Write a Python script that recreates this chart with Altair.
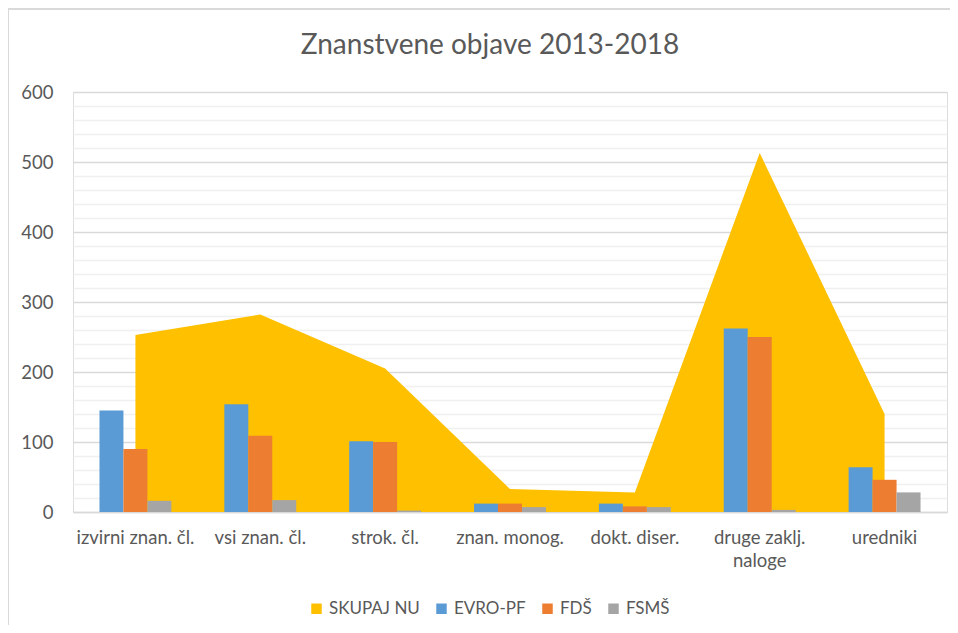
import altair as alt
import pandas as pd

title_text = "Znanstvene objave 2013-2018"
categories = ["izvirni znan. čl.", "vsi znan. čl.", "strok. čl.", "znan. monog.",
              "dokt. diser.", "druge zaklj. naloge", "uredniki"]
series_names = ["SKUPAJ NU", "EVRO-PF", "FDŠ", "FSMŠ"]
colors = ["#FFC000", "#5B9BD5", "#ED7D31", "#A5A5A5"]

skupaj_nu = [253, 282, 205, 33, 28, 513, 140]
evro_pf = [145, 154, 101, 12, 12, 262, 64]
fds = [90, 109, 100, 12, 8, 250, 46]
fsms = [16, 17, 2, 7, 7, 3, 28]

area_df = pd.DataFrame({"cat": categories, "value": skupaj_nu, "series": "SKUPAJ NU"})
bar_rows = []
for name, vals in zip(series_names[1:], [evro_pf, fds, fsms]):
    for c, v in zip(categories, vals):
        bar_rows.append({"cat": c, "value": v, "series": name})
bar_df = pd.DataFrame(bar_rows)

FONT = "Lato"
GREY = "#595959"

x_scale = alt.Scale(domain=categories, paddingInner=0.424, paddingOuter=0.212)
y_scale = alt.Scale(domain=[0, 600], nice=False)
color_scale = alt.Scale(domain=series_names, range=colors)

x_axis = alt.Axis(
    title=None, labelAngle=0, ticks=False, domainColor="#D9D9D9", domainWidth=1.5,
    labelFontSize=18.5, labelColor=GREY, labelFont=FONT, labelPadding=16,
    labelExpr="datum.value == 'druge zaklj. naloge' ? ['druge zaklj.', 'naloge'] : datum.value",
    labelBaseline="top", labelLineHeight=23, grid=False,
)
y_axis = alt.Axis(
    title=None, values=list(range(0, 601, 20)), ticks=False, domain=False,
    labelExpr="datum.value % 100 === 0 ? datum.label : ''",
    labelFontSize=18.5, labelColor=GREY, labelFont=FONT, labelPadding=20,
    grid=True,
    gridColor={"condition": {"test": "datum.value % 100 === 0", "value": "#D9D9D9"}, "value": "#F0F0F0"},
    gridWidth=1.5,
)

area = alt.Chart(area_df).mark_area(opacity=1).encode(
    x=alt.X("cat:N", sort=categories, scale=x_scale, axis=x_axis, bandPosition=0.5),
    y=alt.Y("value:Q", scale=y_scale, axis=y_axis),
    color=alt.Color("series:N", scale=color_scale,
                    legend=alt.Legend(title=None, orient="none", direction="horizontal",
                                      legendX=235, legendY=508, symbolType="square",
                                      symbolSize=110, labelFontSize=17, labelColor=GREY,
                                      labelFont=FONT, columnPadding=13, labelOffset=4)),
)

bars = alt.Chart(bar_df).mark_bar().encode(
    x=alt.X("cat:N", sort=categories, scale=x_scale, axis=x_axis),
    xOffset=alt.XOffset("series:N", sort=series_names[1:], scale=alt.Scale(paddingInner=0, paddingOuter=0)),
    y=alt.Y("value:Q", scale=y_scale, axis=y_axis),
    color=alt.Color("series:N", scale=color_scale),
)

border = alt.Chart(alt.Data(values=[{}])).mark_rect(
    filled=False, stroke="#D9D9D9", strokeWidth=2, clip=False
).encode(x=alt.value(-65), x2=alt.value(900), y=alt.value(-83), y2=alt.value(600))

title = alt.Chart(alt.Data(values=[{"t": title_text}])).mark_text(
    font=FONT, fontSize=28, color=GREY, align="center", baseline="middle", clip=False
).encode(text="t:N", x=alt.value(417), y=alt.value(-46))

chart = alt.layer(border, area, bars, title).properties(
    width=874, height=420,
    autosize=alt.AutoSizeParams(type="none"),
    padding={"left": 65, "top": 84, "right": 3, "bottom": 113},
).configure_view(stroke=None).configure(background="white")

chart.save("out.html", embed_options={"renderer": "svg", "actions": False})
